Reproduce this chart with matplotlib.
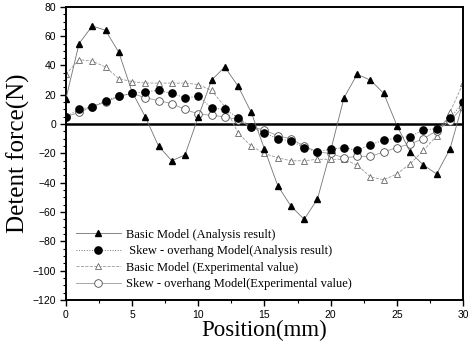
import matplotlib
matplotlib.use('Agg')
from matplotlib import pyplot as plt
from matplotlib.ticker import MultipleLocator
import numpy as np

position = list(range(31))

basic_analysis = [17, 55, 67, 64, 49, 22, 5, -15, -25, -21, 5, 30, 39, 26, 8, -17,
                  -42, -56, -65, -51, -18, 18, 34, 30, 21, -1, -19, -28, -34, -17, 15]
skew_analysis = [5, 10, 12, 16, 19, 21, 22, 23, 21, 18, 19, 11, 10, 4.5, -2, -6,
                 -10, -11.5, -16, -19, -17, -16, -18, -14, -11, -9.5, -8.5, -4, -3, 4, 15]
basic_experiment = [34, 44, 43, 39, 31, 29, 28, 28, 28, 28, 27, 23, 12, -6, -15, -20,
                    -23, -25, -25, -24, -24, -24, -28, -36, -38, -34, -27, -18, -8, 8, 28]
skew_experiment = [5, 8, 12, 15, 19, 21, 18, 16, 14, 10, 7, 6, 5, 3, -2, -4,
                   -8, -10, -15, -19, -20, -23, -22, -22, -19, -16, -13.5, -10, -4.5, 2, 12]

labels = ['Basic Model (Analysis result)',
          ' Skew - overhang Model(Analysis result)',
          'Basic Model (Experimental value)',
          'Skew - overhang Model(Experimental value)']

fig = plt.figure(figsize=(4.77, 3.44), dpi=100)
ax = fig.add_axes([0.138, 0.128, 0.833, 0.852])

lc = '0.45'
ax.axhline(0, color='black', lw=1.8, zorder=1)
ax.plot(position, basic_analysis, '-', color=lc, lw=0.6, marker='^', ms=5,
        mfc='black', mec='black', label=labels[0], zorder=3)
ax.plot(position, skew_analysis, ':', color=lc, lw=0.7, marker='o', ms=5.2,
        mfc='black', mec='black', label=labels[1], zorder=3)
ax.plot(position, basic_experiment, '--', color='0.6', lw=0.6, marker='^', ms=5,
        mfc='white', mec='0.4', mew=0.6, label=labels[2], zorder=2)
ax.plot(position, skew_experiment, '-', color='0.6', lw=0.6, marker='o', ms=5.5,
        mfc='white', mec='0.3', mew=0.6, label=labels[3], zorder=2)

ax.set_xlim(0, 30)
ax.set_ylim(-120, 80)
ax.xaxis.set_major_locator(MultipleLocator(5))
ax.xaxis.set_minor_locator(MultipleLocator(2.5))
ax.yaxis.set_major_locator(MultipleLocator(20))
ax.yaxis.set_minor_locator(MultipleLocator(5))
ax.tick_params(which='major', length=4, width=1, labelsize=7.5, pad=3)
ax.tick_params(which='minor', length=2, width=0.8)
for lab in ax.get_xticklabels() + ax.get_yticklabels():
    lab.set_family('Liberation Sans')
for s in ax.spines.values():
    s.set_linewidth(1.4)

ax.set_xlabel('Position(mm)', family='Liberation Serif', fontsize=16.5, labelpad=0)
ax.set_ylabel('Detent force(N)', family='Liberation Serif', fontsize=18, labelpad=2)

ax.legend(loc='lower left', bbox_to_anchor=(0.0, 0.0), frameon=False,
          prop={'family': 'Liberation Serif', 'size': 9}, handlelength=3.6,
          handletextpad=0.4, labelspacing=0.35, borderaxespad=0.4)

plt.savefig('out.png', dpi=100)
